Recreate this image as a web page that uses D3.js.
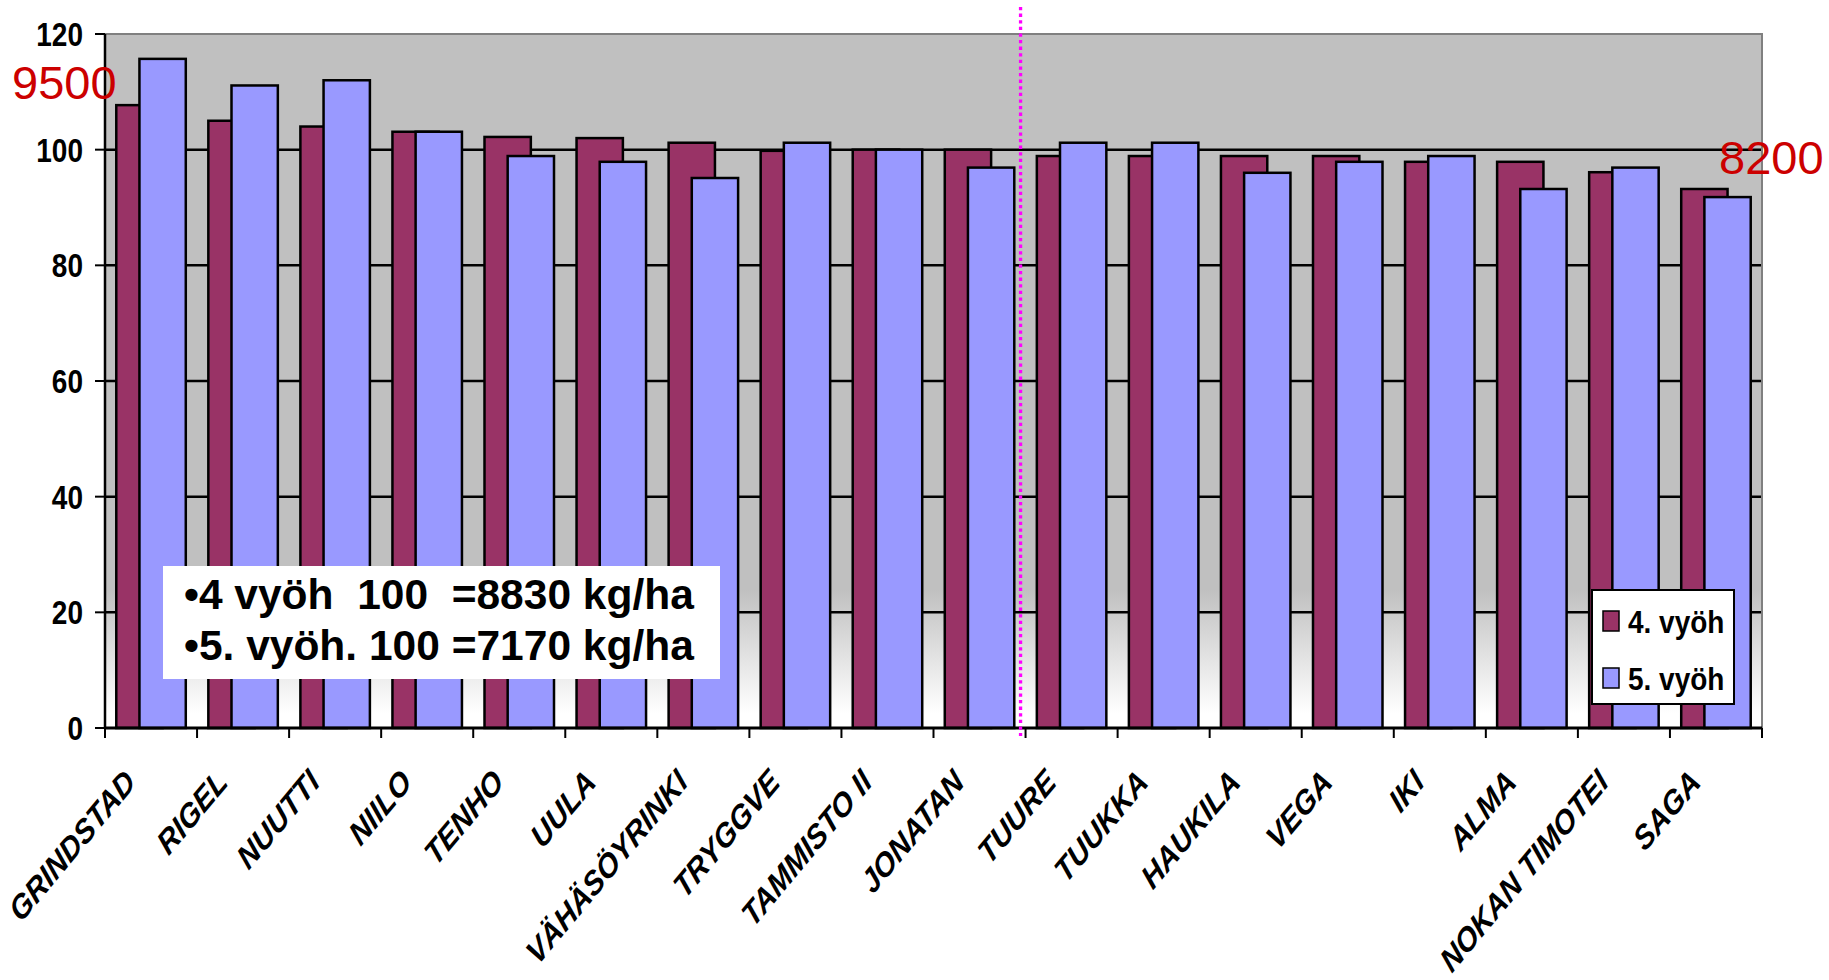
<!DOCTYPE html>
<html>
<head>
<meta charset="utf-8">
<script src="https://cdn.jsdelivr.net/npm/d3@7"></script>
<style>
  body { margin: 0; background: #fff; }
  text { font-family: "Liberation Sans", Arial, sans-serif; }
</style>
</head>
<body>
<div id="chart"></div>
<script>
// varieties, relative yield (100 = zone mean)
const categories = ["GRINDSTAD", "RIGEL", "NUUTTI", "NIILO", "TENHO", "UULA", "VÄHÄSÖYRINKI",
  "TRYGGVE", "TAMMISTO II", "JONATAN", "TUURE", "TUUKKA", "HAUKILA", "VEGA", "IKI", "ALMA",
  "NOKAN TIMOTEI", "SAGA"];
const zone4 = [107.7, 105.0, 104.0, 103.1, 102.2, 102.0, 101.2, 99.8, 100, 100, 98.9, 98.9, 98.9, 98.9, 97.9, 97.9, 96.1, 93.2];
const zone5 = [115.7, 111.1, 112.0, 103.1, 98.9, 97.9, 95.1, 101.2, 100, 96.9, 101.2, 101.2, 96.0, 97.9, 98.9, 93.2, 96.9, 91.8];
const seriesNames = ["4. vyöh", "5. vyöh"];
const yTicks = [0, 20, 40, 60, 80, 100, 120];
const noteLines = ["•4 vyöh  100  =8830 kg/ha", "•5. vyöh. 100 =7170 kg/ha"];

const W = 1829, H = 980;
const margin = { top: 34, right: 67, bottom: 252, left: 105 };
const width = W - margin.left - margin.right;
const height = H - margin.top - margin.bottom;

const svg = d3.select("#chart").append("svg")
  .attr("width", W).attr("height", H);

const g = svg.append("g").attr("transform", `translate(${margin.left},${margin.top})`);

const x = d3.scaleBand().domain(categories).range([0, width])
  .paddingInner(0.245).paddingOuter(0.1225);
const y = d3.scaleLinear().domain([0, 120]).range([height, 0]);

const colors = ["#993366", "#9999FF"];

// plot background, grey fading to white at the bottom
const grad = svg.append("defs").append("linearGradient")
  .attr("id", "bg").attr("x1", 0).attr("x2", 0).attr("y1", 0).attr("y2", 1);
grad.append("stop").attr("offset", 0).attr("stop-color", "#C0C0C0");
grad.append("stop").attr("offset", y(24) / height).attr("stop-color", "#C0C0C0");
grad.append("stop").attr("offset", y(2.5) / height).attr("stop-color", "#FFFFFF");
grad.append("stop").attr("offset", 1).attr("stop-color", "#FFFFFF");

g.append("rect").attr("width", width).attr("height", height).attr("fill", "url(#bg)");

// gridlines
g.selectAll(".grid").data(yTicks.filter(d => d > 0 && d < 120)).join("line")
  .attr("x1", 0).attr("x2", width)
  .attr("y1", d => y(d)).attr("y2", d => y(d))
  .attr("stroke", "#000").attr("stroke-width", 2.5);

// plot border top/right
g.append("path")
  .attr("d", `M0,${y(120)}H${width}V${height}`)
  .attr("fill", "none").attr("stroke", "#808080").attr("stroke-width", 2);

// bars
const bw = x.bandwidth() / 1.5;
const off = x.bandwidth() - bw;
[zone4, zone5].forEach((vals, s) => {
  g.selectAll(".bar" + s).data(vals).join("rect")
    .attr("x", (d, i) => x(categories[i]) + s * off)
    .attr("y", d => y(d))
    .attr("width", bw)
    .attr("height", d => y(0) - y(d))
    .attr("fill", colors[s])
    .attr("stroke", "#000").attr("stroke-width", 2.5);
});

// y axis
g.append("line").attr("x1", 0).attr("x2", 0).attr("y1", 0).attr("y2", height)
  .attr("stroke", "#000").attr("stroke-width", 2.5);
g.selectAll(".ytick").data(yTicks).join("line")
  .attr("x1", -10).attr("x2", 0)
  .attr("y1", d => y(d)).attr("y2", d => y(d))
  .attr("stroke", "#000").attr("stroke-width", 2);
g.selectAll(".ylab").data(yTicks).join("text")
  .attr("transform", d => `translate(-22,${y(d)}) scale(1,1.2)`)
  .attr("text-anchor", "end").attr("dy", "0.36em")
  .attr("font-size", 28).attr("font-weight", "bold")
  .text(d => d);

// x axis
g.append("line").attr("x1", 0).attr("x2", width).attr("y1", height).attr("y2", height)
  .attr("stroke", "#000").attr("stroke-width", 3);
const bounds = categories.map(c => x(c) - x.step() * x.paddingOuter()).concat([width]);
g.selectAll(".xtick").data(bounds).join("line")
  .attr("x1", d => d).attr("x2", d => d)
  .attr("y1", height).attr("y2", height + 10)
  .attr("stroke", "#000").attr("stroke-width", 2);
g.selectAll(".xlab").data(categories).join("text")
  .attr("transform", d => `translate(${x(d) + x.bandwidth() / 2 - 14},${height + 56}) scale(1,1.2) rotate(-45)`)
  .attr("text-anchor", "end")
  .attr("font-size", 28).attr("font-weight", "bold").attr("font-style", "italic")
  .text(d => d);

// dotted divider between JONATAN and TUURE
const divX = x("TUURE") - x.step() * x.paddingOuter() - 5;
g.append("line")
  .attr("x1", divX).attr("x2", divX)
  .attr("y1", 7 - margin.top).attr("y2", height + 8)
  .attr("stroke", "#FF00FF").attr("stroke-width", 3.3)
  .attr("stroke-dasharray", "3.3,3.3");

// red reference values
svg.append("text").attr("x", 12).attr("y", 99)
  .attr("font-size", 47).attr("fill", "#CC0000").text("9500");
svg.append("text").attr("x", 1719).attr("y", 174)
  .attr("font-size", 47).attr("fill", "#CC0000").text("8200");

// note box
svg.append("rect").attr("x", 163).attr("y", 566).attr("width", 557).attr("height", 113)
  .attr("fill", "#fff");
noteLines.forEach((t, i) => {
  svg.append("text").attr("x", 184).attr("y", 609 + i * 51)
    .attr("font-size", 42.5).attr("font-weight", "bold")
    .style("white-space", "pre").text(t);
});

// legend
const legend = svg.append("g").attr("transform", "translate(1592,590)");
legend.append("rect").attr("width", 142).attr("height", 114)
  .attr("fill", "#fff").attr("stroke", "#000").attr("stroke-width", 2);
seriesNames.forEach((k, i) => {
  const row = legend.append("g").attr("transform", `translate(11, ${21 + i * 57})`);
  row.append("rect").attr("width", 16).attr("height", 20)
    .attr("fill", colors[i]).attr("stroke", "#000").attr("stroke-width", 1.5);
  row.append("text").attr("transform", "translate(25,22) scale(1,1.1)")
    .attr("font-size", 28).attr("font-weight", "bold").text(k);
});
</script>
</body>
</html>
